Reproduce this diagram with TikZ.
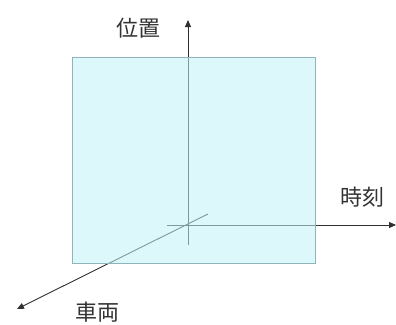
\documentclass[tikz,border=0pt]{standalone}
\usepackage{fontspec}
\newfontfamily\cjk{Noto Sans CJK JP}
\usetikzlibrary{arrows.meta}
\definecolor{panefill}{HTML}{C1F2F6}
\definecolor{paneline}{HTML}{8FB4BC}
\definecolor{axisline}{HTML}{303030}
\tikzset{
  axis/.style={draw=axisline,line width=0.9pt,-{Triangle[length=7pt,width=6pt]}},
  axislabel/.style={font=\cjk\fontsize{22}{24}\selectfont,text=black!80,inner sep=0pt},
  pane/.style={draw=paneline,line width=0.8pt,fill=panefill,fill opacity=0.55}
}

\begin{document}
\begin{tikzpicture}[x=1pt,y=-1pt]
\useasboundingbox (0,0) rectangle (396,324);
% axes
\coordinate (o) at (188,225);
\coordinate (tback) at (167,225);
\coordinate (pback) at (188,245);
\coordinate (vback) at (208,214);
\coordinate (ttip) at (396,225);
\coordinate (ptip) at (188,20);
\coordinate (vtip) at (17,309);
\draw[axis] (tback) -- (ttip);
\draw[axis] (pback) -- (ptip);
\draw[axis] (vback) -- (vtip);
% plane
\node[pane,minimum width=243pt,minimum height=206pt,inner sep=0pt,anchor=north west] (plane) at (72,57) {};
% labels
\node[axislabel] (pos) at (138,28) {位置};
\node[axislabel] (time) at (362,197) {時刻};
\node[axislabel] (car) at (97,312) {車両};
\end{tikzpicture}
\end{document}
